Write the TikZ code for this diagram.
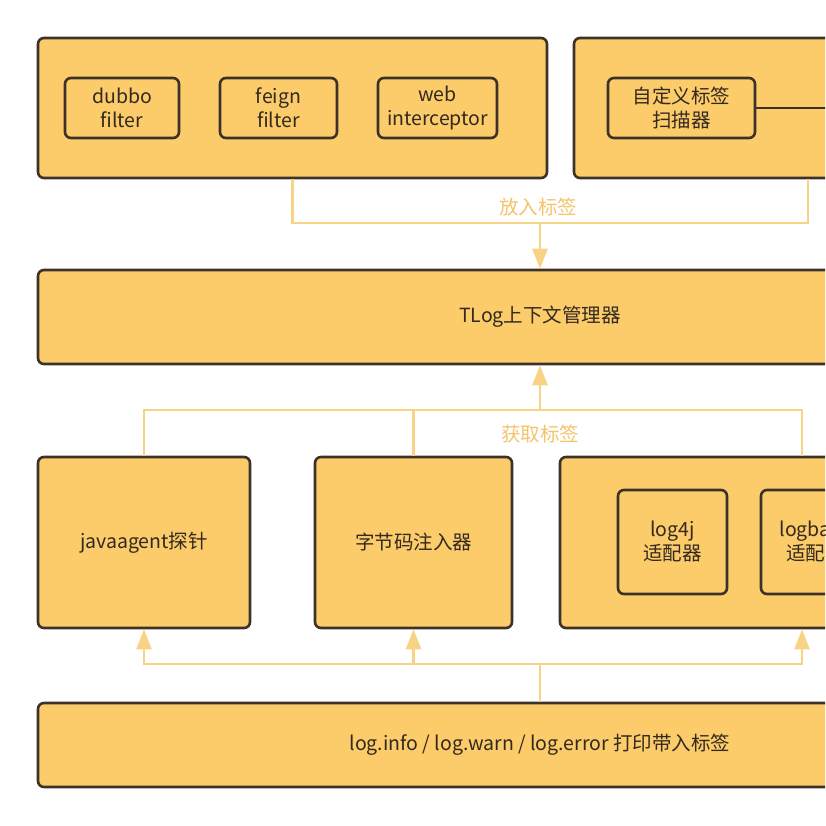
\documentclass[tikz,border=0pt]{standalone}
\usepackage{fontspec}
\setmainfont{Noto Sans CJK SC}
\usetikzlibrary{positioning,arrows.meta}

\definecolor{boxfill}{HTML}{FCCB6A}
\definecolor{boxline}{HTML}{3D3229}
\definecolor{linkcol}{HTML}{F9D385}
\definecolor{labelcol}{HTML}{F4C46C}
\definecolor{textcol}{HTML}{33291F}

\tikzset{
    outerbox/.style={draw=boxline, fill=boxfill, line width=2.6pt, rounded corners=6pt,
        text=textcol, font=\fontsize{19.5}{24}\selectfont, align=center, inner sep=0pt},
    innerbox/.style={outerbox},
    link/.style={draw=linkcol, line width=2.6pt},
    uparrow/.style={link, -{Triangle[width=15pt,length=20pt]}},
    linklabel/.style={text=labelcol, font=\fontsize{19.5}{22}\selectfont}
}

\begin{document}
\begin{tikzpicture}[x=1pt, y=-1pt]
    \useasboundingbox (0,0) rectangle (825,826);
    \fill[white] (0,0) rectangle (825,826);
    \clip (0,0) rectangle (825,826);

    % Top row: filters and scanner
    \node[outerbox, minimum width=509, minimum height=140] (filters) at (292.5,108) {};
    \node[innerbox, minimum width=114, minimum height=60] (dubbo) at (122,108) {dubbo\\filter};
    \node[innerbox, minimum width=117, minimum height=60] (feign) at (278.5,108) {feign\\filter};
    \node[innerbox, minimum width=119, minimum height=60] (web) at (437.5,108) {web\\interceptor};

    \node[outerbox, minimum width=468, minimum height=140] (scanners) at (808,108) {};
    \node[innerbox, minimum width=147, minimum height=60] (tagscan) at (681.5,108) {自定义标签\\扫描器};
    \coordinate (scanout) at (850,108);
    \draw[boxline, line width=2.6pt] (tagscan) -- (scanout);

    % Context manager
    \node[outerbox, minimum width=1004, minimum height=94] (tlog) at (540,317) {TLog上下文管理器};

    % Middle row
    \node[outerbox, minimum width=212, minimum height=171] (agent) at (144,542.5) {javaagent探针};
    \node[outerbox, minimum width=197, minimum height=171] (inject) at (413.5,542.5) {字节码注入器};
    \node[outerbox, minimum width=484, minimum height=171] (adapters) at (802,542.5) {};
    \node[innerbox, minimum width=109, minimum height=104] (log4j) at (672.5,542) {log4j\\适配器};
    \node[innerbox, minimum width=109, minimum height=104] (logback) at (815.5,542) {logback\\适配器};

    % Bottom: log calls
    \node[outerbox, minimum width=1004, minimum height=84] (logcall) at (540,745) {log.info / log.warn / log.error 打印带入标签};

    % Put tags
    \coordinate (putbus) at (540,223);
    \draw[link] (filters.south) |- (putbus) -| (scanners.south);
    \draw[uparrow] (putbus) -- (tlog.north);
    \node[linklabel] (putlabel) at (538,207) {放入标签};

    % Get tags
    \coordinate (getbus) at (540,410);
    \draw[link] (agent.north) |- (getbus) -| (adapters.north);
    \draw[link] (inject.north) -- (inject.north |- getbus);
    \draw[uparrow] (getbus) -- (tlog.south);
    \node[linklabel] (getlabel) at (540,434) {获取标签};

    % Log call into adapters
    \coordinate (logbus) at (540,664);
    \draw[link] (logcall.north) -- (logbus);
    \draw[uparrow] (logbus) -| (agent.south);
    \draw[uparrow] (logbus) -| (adapters.south);
    \draw[uparrow] (inject.south |- logbus) -- (inject.south);
\end{tikzpicture}
\end{document}
